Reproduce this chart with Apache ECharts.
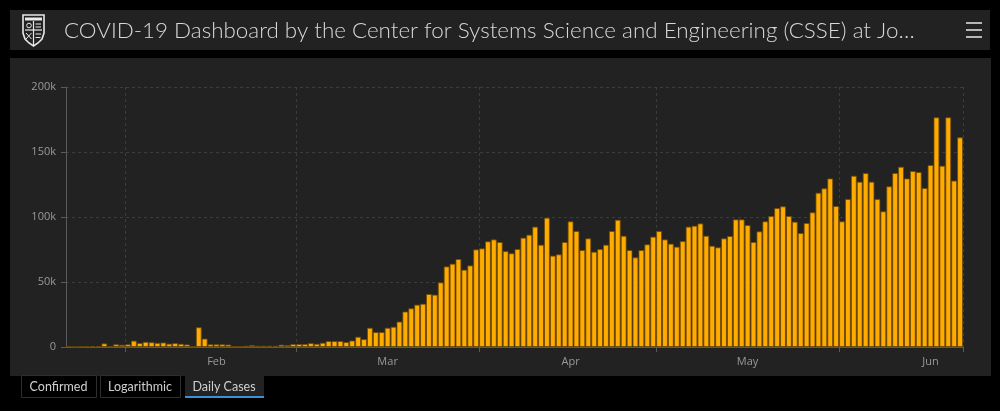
<!DOCTYPE html>
<html>
<head>
<meta charset="utf-8">
<script src="https://cdn.jsdelivr.net/npm/echarts@6/dist/echarts.min.js"></script>
<style>
html,body{margin:0;padding:0;background:#000;}
#c{width:1000px;height:411px;}
</style>
</head>
<body>
<div id="c"></div>
<script>
// Daily new cases (thousands), one per day from 2020-01-22 to 2020-06-21
const startDate = '2020-01-22';
const dailyCasesK = [
  0.55, 0.1, 0.3, 0.5, 0.7, 0.8, 2.8, 0.6, 2.1, 1.7,
  2.1, 4.9, 3.1, 4.0, 3.7, 3.2, 3.5, 2.6, 3.0, 2.5, 2.0, 0.4, 15.2, 6.5, 2.1, 2.1, 2.1, 1.9, 0.5, 0.6, 1.0, 1.5, 1.0, 1.0, 1.0, 1.0, 1.8, 1.5, 2.3,
  2.3, 2.3, 3.0, 2.5, 3.3, 4.6, 4.6, 4.6, 3.8, 5.0, 7.9, 6.1, 14.8, 11.5, 11.5, 14.8, 15.6, 19.6, 27.3, 29.8, 32.6, 33.3, 40.8, 40.3, 49.7, 62.0, 64.1, 67.7, 59.5, 62.8, 75.1,
  75.9, 81.3, 82.8, 80.8, 73.8, 72.1, 75.4, 84.1, 86.4, 92.6, 78.7, 99.5, 70.3, 71.3, 80.8, 96.7, 89.2, 74.6, 83.6, 73.3, 75.4, 78.7, 89.2, 97.9, 85.6, 74.6, 69.0, 74.6, 79.0, 84.9,
  89.2, 82.8, 79.5, 77.2, 81.5, 92.6, 93.3, 95.1, 85.6, 77.9, 76.7, 83.6, 85.4, 98.2, 98.2, 93.8, 80.8, 89.0, 96.7, 100.8, 106.9, 108.2, 100.8, 96.4, 87.7, 95.4, 103.6, 118.7, 122.1, 129.7, 108.5,
  96.7, 113.8, 131.8, 127.2, 133.8, 127.2, 113.8, 104.4, 123.6, 133.8, 138.7, 129.7, 135.4, 134.6, 122.3, 140.0, 176.7, 139.5, 176.7, 128.0, 161.3
];
const yTicks = [0, 50000, 100000, 150000, 200000];
const monthNames = ['Jan','Feb','Mar','Apr','May','Jun','Jul','Aug','Sep','Oct','Nov','Dec'];
const titleText = 'COVID-19 Dashboard by the Center for Systems Science and Engineering (CSSE) at Jo…';
const tabLabels = ['Confirmed', 'Logarithmic', 'Daily Cases'];

// build dates
const dates = [];
const d0 = new Date(startDate + 'T00:00:00Z');
for (let i = 0; i < dailyCasesK.length; i++) {
  const d = new Date(d0.getTime() + i * 86400000);
  dates.push(d.toISOString().slice(0, 10));
}
const values = dailyCasesK.map(v => Math.round(v * 1000));
const dayOf = s => parseInt(s.slice(8, 10), 10);
const monthOf = s => monthNames[parseInt(s.slice(5, 7), 10) - 1];

const chart = echarts.init(document.getElementById('c'), null, {renderer: 'canvas'});

const tabX = [21, 100, 185];
const tabW = [75, 80, 78];
const tabGraphics = [];
tabLabels.forEach((t, i) => {
  const active = i === 2;
  tabGraphics.push({
    type: 'rect', shape: {x: tabX[i] + 0.5, y: 375.5, width: tabW[i], height: 22},
    style: {fill: active ? '#222222' : '#000000', stroke: active ? '#222222' : '#2e2e2e', lineWidth: 1}, z: 1
  });
  if (active) {
    tabGraphics.push({type: 'rect', shape: {x: tabX[i], y: 396, width: tabW[i] + 1, height: 2}, style: {fill: '#3d8fd6'}, z: 2});
  }
  tabGraphics.push({
    type: 'text', x: tabX[i] + tabW[i] / 2, y: 386.5,
    style: {text: t, fill: '#d0d0d0', font: '12.5px Lato, "Open Sans", sans-serif', align: 'center', verticalAlign: 'middle'}, z: 3
  });
});

const W = '#e8e8e8';
const option = {
  backgroundColor: '#000000',
  animation: false,
  graphic: [
    {type: 'rect', shape: {x: 10, y: 10, width: 980, height: 40}, style: {fill: '#222222'}, z: -10},
    {type: 'rect', shape: {x: 10, y: 58, width: 981, height: 318}, style: {fill: '#222222'}, z: -10},
    // shield logo
    {type: 'polygon', shape: {points: [[23, 15], [44, 15], [44, 33], [42, 39], [38, 43], [33.5, 46], [29, 43], [25, 39], [23, 33]]}, style: {fill: 'none', stroke: W, lineWidth: 1.6}, z: 2},
    {type: 'rect', shape: {x: 25, y: 17.5, width: 17, height: 3}, style: {fill: W}, z: 2},
    {type: 'line', shape: {x1: 33.5, y1: 21, x2: 33.5, y2: 45}, style: {stroke: W, lineWidth: 1.2}, z: 2},
    {type: 'line', shape: {x1: 25, y1: 30, x2: 42, y2: 30}, style: {stroke: W, lineWidth: 1.2}, z: 2},
    {type: 'circle', shape: {cx: 29, cy: 25.5, r: 2.3}, style: {fill: 'none', stroke: W, lineWidth: 1}, z: 2},
    {type: 'line', shape: {x1: 35.5, y1: 24, x2: 41, y2: 24}, style: {stroke: W, lineWidth: 1}, z: 2},
    {type: 'line', shape: {x1: 35.5, y1: 27, x2: 41, y2: 27}, style: {stroke: W, lineWidth: 1}, z: 2},
    {type: 'line', shape: {x1: 26, y1: 33, x2: 31.5, y2: 39}, style: {stroke: W, lineWidth: 1}, z: 2},
    {type: 'line', shape: {x1: 31.5, y1: 33, x2: 26, y2: 39}, style: {stroke: W, lineWidth: 1}, z: 2},
    {type: 'line', shape: {x1: 35.5, y1: 34, x2: 41, y2: 34}, style: {stroke: W, lineWidth: 1}, z: 2},
    {type: 'line', shape: {x1: 35.5, y1: 37.5, x2: 40.5, y2: 37.5}, style: {stroke: W, lineWidth: 1}, z: 2},
    {type: 'text', x: 64, y: 31, style: {text: titleText, fill: '#d8d8d8', font: '300 22.4px Lato, "Open Sans", sans-serif', verticalAlign: 'middle'}, z: 2},
    // hamburger
    {type: 'line', shape: {x1: 966, y1: 23, x2: 982, y2: 23}, style: {stroke: '#dcdcdc', lineWidth: 1.6}, z: 2},
    {type: 'line', shape: {x1: 966, y1: 30, x2: 982, y2: 30}, style: {stroke: '#dcdcdc', lineWidth: 1.6}, z: 2},
    {type: 'line', shape: {x1: 966, y1: 37, x2: 982, y2: 37}, style: {stroke: '#dcdcdc', lineWidth: 1.6}, z: 2}
  ].concat(tabGraphics),
  grid: {left: 66, right: 37, top: 87, bottom: 64, containLabel: false},
  xAxis: {
    type: 'category',
    data: dates,
    boundaryGap: true,
    axisLine: {show: true, lineStyle: {color: '#5a5a5a', width: 1}},
    axisTick: {
      show: true, length: 5, alignWithLabel: false,
      interval: (i, v) => dayOf(v) === 1,
      lineStyle: {color: '#5a5a5a'}
    },
    axisLabel: {
      interval: (i, v) => dayOf(v) === 16,
      formatter: v => monthOf(v),
      color: '#999999', fontSize: 11, margin: 9,
      fontFamily: '"Open Sans", sans-serif'
    },
    splitLine: {
      show: true,
      interval: (i, v) => dayOf(v) === 1,
      lineStyle: {color: '#3c3c3c', type: [3, 3], width: 1}
    }
  },
  yAxis: {
    type: 'value',
    min: yTicks[0], max: yTicks[yTicks.length - 1], interval: yTicks[1] - yTicks[0],
    axisLine: {show: true, lineStyle: {color: '#5a5a5a', width: 1}},
    axisTick: {show: true, length: 5, lineStyle: {color: '#5a5a5a'}},
    axisLabel: {
      formatter: v => v === 0 ? '0' : (v / 1000) + 'k',
      color: '#999999', fontSize: 11, margin: 10,
      fontFamily: '"Open Sans", sans-serif'
    },
    splitLine: {show: true, lineStyle: {color: '#3c3c3c', type: [3, 3], width: 1}}
  },
  series: [{
    type: 'bar',
    data: values,
    barCategoryGap: '0%',
    itemStyle: {color: '#ffab00', borderColor: 'rgba(110,75,5,0.8)', borderWidth: 1}
  }]
};
chart.setOption(option);
</script>
</body>
</html>
